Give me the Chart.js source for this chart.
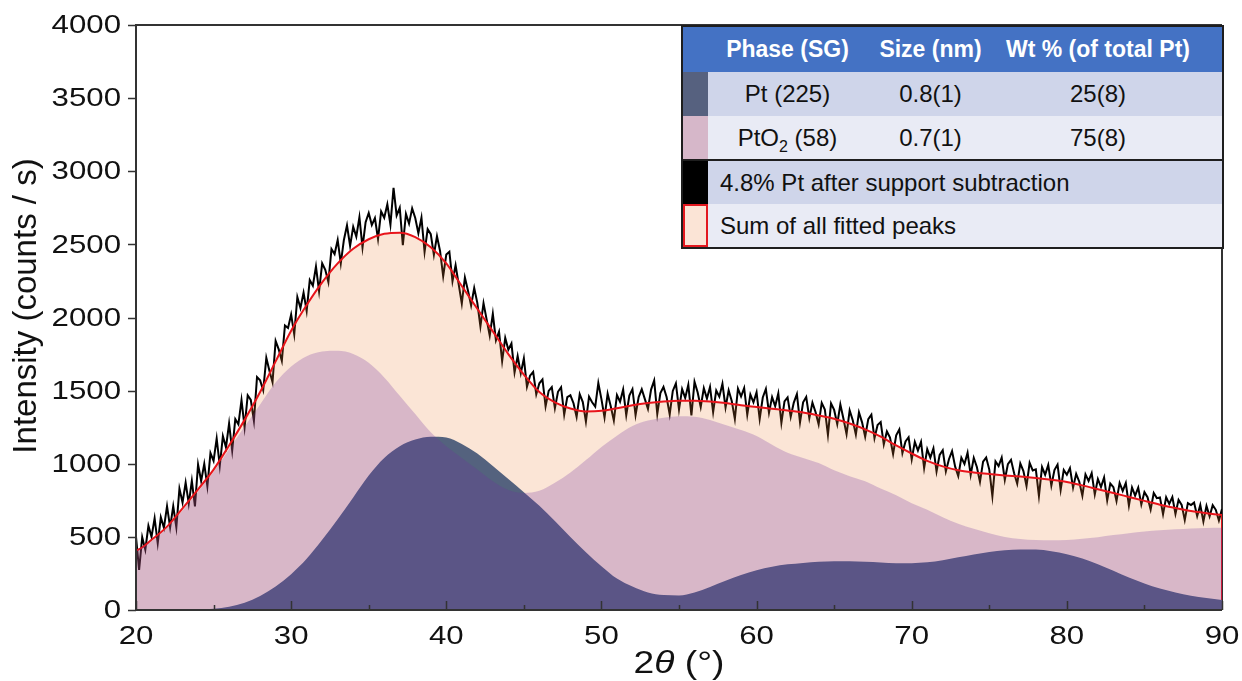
<!DOCTYPE html>
<html>
<head>
<meta charset="utf-8">
<script src="https://cdn.jsdelivr.net/npm/chart.js@4"></script>
<style>
  html, body { margin: 0; padding: 0; background: #fff; }
  #wrap { position: relative; width: 1242px; height: 681px; }
  #phases {
    position: absolute; left: 681px; top: 25px; width: 541px;
    border-collapse: collapse; table-layout: fixed;
    border: 2px solid #1e1e1e;
    font-family: "Liberation Sans", Arial, sans-serif; font-size: 24px; color: #111;
  }
  #phases td, #phases th { padding: 0; text-align: center; white-space: nowrap; }
  #phases tr { height: 44px; }
  #phases tr.head { height: 46px; background: #4472c4; color: #fff; }
  #phases tr.head th { font-weight: bold; font-size: 23px; }
  #phases tr.dark { background: #cfd5ea; }
  #phases tr.light { background: #e9ebf5; }
  #phases tr.sep td { border-top: 2px solid #1e1e1e; }
  #phases .wt { padding-right: 20px; }
  #phases .txt { text-align: left; padding-left: 12px; }
  #phases sub { font-size: 16px; line-height: 0; }
  .sw-pt { background: #56617f; }
  .sw-pto2 { background: #d6b7c9; }
  .sw-data { background: #000; }
  .sw-sum { background: #fbe4d6; box-shadow: inset 0 0 0 2px #e3181f; }
</style>
</head>
<body>
<div id="wrap">
  <canvas id="xrd" width="1242" height="681"></canvas>
  <table id="phases">
    <colgroup><col style="width:26px"><col style="width:159px"><col style="width:127px"><col style="width:229px"></colgroup>
    <tr class="head"><th></th><th>Phase (SG)</th><th>Size (nm)</th><th class="wt">Wt % (of total Pt)</th></tr>
    <tr class="dark"><td class="sw-pt"></td><td>Pt (225)</td><td>0.8(1)</td><td class="wt">25(8)</td></tr>
    <tr class="light"><td class="sw-pto2"></td><td>PtO<sub>2</sub> (58)</td><td>0.7(1)</td><td class="wt">75(8)</td></tr>
    <tr class="dark sep"><td class="sw-data"></td><td colspan="3" class="txt">4.8% Pt after support subtraction</td></tr>
    <tr class="light"><td class="sw-sum"></td><td colspan="3" class="txt">Sum of all fitted peaks</td></tr>
  </table>
</div>
<script>
// fitted curves, read every 1 degree from 20 to 90
const angles = [20,21,22,23,24,25,26,27,28,29,30,31,32,33,34,35,36,37,38,39,40,41,42,43,44,45,
  46,47,48,49,50,51,52,53,54,55,56,57,58,59,60,61,62,63,64,65,66,67,68,69,70,71,72,73,74,75,
  76,77,78,79,80,81,82,83,84,85,86,87,88,89,90];

const sumFit = [410,480,570,695,825,960,1125,1300,1490,1700,1910,2085,2240,2370,2470,2535,2572,2580,2550,2480,
  2370,2215,2060,1905,1750,1610,1490,1420,1378,1358,1362,1380,1400,1415,1425,1430,1430,1425,1415,1400,
  1388,1376,1364,1350,1330,1308,1275,1235,1185,1125,1070,1020,982,955,940,930,920,912,902,890,
  875,852,826,800,773,746,720,697,677,662,650];

const pto2Fit = [400,470,560,680,810,945,1100,1255,1405,1555,1665,1735,1768,1772,1750,1690,1590,1465,1340,1215,
  1120,1040,960,880,820,800,815,870,940,1025,1115,1192,1258,1295,1315,1325,1322,1300,1265,1230,
  1190,1130,1075,1040,1005,955,915,880,830,785,730,685,635,590,555,525,500,485,478,477,
  479,487,498,512,525,537,545,552,558,561,562];

const ptFit = [0,0,0,0,2,8,22,50,95,160,245,350,480,620,770,920,1040,1120,1165,1185,
  1180,1135,1070,985,895,805,712,608,500,395,300,215,160,120,102,100,120,158,200,240,
  272,296,312,322,330,334,334,330,325,320,320,326,340,360,380,397,408,414,413,402,
  382,352,312,268,222,182,147,120,98,82,68];

// measured pattern (4.8% Pt after support subtraction), every 0.2 degree
const scanStart = 20;
const scanStep = 0.2;
const scanCounts = [
  500,274,498,412,576, 500,628,456,634,562, 710,565,710,565,830, 735,871,727,883,709,
  995,882,999,846,1073, 1020,1173,986,1189,1112, 1275,1090,1305,1270,1435, 1250,1468,1436,1294,1592,
  1570,1502,1724,1636,1558, 1840,1782,1704,1946,1928, 2020,1885,2140,2065,2170, 2045,2256,2217,2348,2179,
  2370,2326,2242,2468,2434, 2530,2370,2530,2630,2490, 2620,2553,2686,2479,2652, 2715,2632,2680,2537,2725,
  2682,2774,2635,2887,2698, 2750,2494,2708,2642,2746, 2680,2576,2682,2448,2604, 2570,2428,2556,2454,2282,
  2430,2449,2248,2357,2226, 2095,2274,2183,2082,2201, 2100,1939,2098,1987,1876, 2025,1844,1903,1702,1861,
  1780,1822,1624,1736,1618, 1720,1526,1602,1628,1474, 1550,1576,1392,1498,1524, 1380,1492,1523,1335,1456,
  1468,1414,1320,1476,1422, 1288,1459,1420,1391,1552, 1442,1316,1479,1393,1296, 1470,1424,1508,1332,1466,
  1510,1333,1456,1509,1442, 1375,1507,1569,1341,1483, 1525,1456,1337,1498,1549, 1370,1510,1450,1540,1330,
  1560,1489,1388,1517,1446, 1525,1353,1501,1459,1547, 1385,1502,1429,1306,1513, 1460,1518,1335,1473,1420,
  1488,1306,1453,1511,1348, 1456,1394,1481,1279,1426, 1454,1321,1418,1476,1283, 1420,1456,1312,1418,1354,
  1270,1416,1371,1197,1412, 1368,1271,1405,1308,1202, 1365,1297,1199,1351,1283, 1185,1305,1335,1175,1265,
  1285,1133,1221,1179,1067, 1195,1234,1073,1152,1181, 1030,1150,1090,1150,970, 1100,1042,1105,947,1060,
  1092,947,1031,1086,980, 915,1042,999,1076,923, 1040,978,876,1014,1042, 960,778,1016,984,1042,
  890,998,1027,935,864, 1002,950,848,1006,954, 962,780,977,925,992, 850,957,994,821,958,
  925,970,836,931,877, 782,927,882,936,791, 896,841,906,750,865, 840,745,869,814,868,
  713,838,782,837,721, 806,771,686,800,765, 770,655,771,726,772, 657,753,719,615,731,
  717,734,641,718,605, 712,640,717,685,612, 690
];

const xTicks = [20,30,40,50,60,70,80,90];
const xMinorTicks = [25,35,45,55,65,75,85];
const yTicks = [0,500,1000,1500,2000,2500,3000,3500,4000];

// the axis lettering in the original is a little wider than plain Arial
const TEXT_STRETCH = 1.2;
const FRAME = '#333';

function points(xs, ys) {
  return xs.map((a, i) => ({x: a, y: ys[i]}));
}

const scanPoints = scanCounts.map((c, i) => ({x: +(scanStart + i * scanStep).toFixed(1), y: c}));
// closed outline like the filled area in the original (down to 0 at both ends)
const sumPoints = [{x: angles[0], y: 0}].concat(points(angles, sumFit), [{x: angles[angles.length - 1], y: 0}]);

const frameAndText = {
  id: 'frameAndText',
  beforeDatasetsDraw(chart) {
    const {ctx, chartArea: a} = chart;
    ctx.save();
    ctx.strokeStyle = FRAME;
    ctx.lineWidth = 2;
    ctx.beginPath();
    ctx.moveTo(a.right, a.top);
    ctx.lineTo(a.right, a.bottom);
    ctx.stroke();
    ctx.restore();
  },
  afterDatasetsDraw(chart) {
    const {ctx, chartArea: a, scales: {x, y}} = chart;
    ctx.save();
    ctx.strokeStyle = FRAME;
    ctx.lineWidth = 2;
    ctx.beginPath();
    ctx.moveTo(a.right, a.top);
    ctx.lineTo(a.left, a.top);
    ctx.lineTo(a.left, a.bottom);
    ctx.lineTo(a.right, a.bottom);
    ctx.stroke();

    // ticks: y outward, x inward
    ctx.lineWidth = 1.5;
    ctx.beginPath();
    yTicks.forEach(v => {
      const py = Math.round(y.getPixelForValue(v)) + 0.5;
      ctx.moveTo(a.left - 8, py);
      ctx.lineTo(a.left, py);
    });
    xTicks.forEach(v => {
      const px = Math.round(x.getPixelForValue(v)) + 0.5;
      ctx.moveTo(px, a.bottom);
      ctx.lineTo(px, a.bottom - 9);
    });
    xMinorTicks.forEach(v => {
      const px = Math.round(x.getPixelForValue(v)) + 0.5;
      ctx.moveTo(px, a.bottom);
      ctx.lineTo(px, a.bottom - 5);
    });
    ctx.stroke();

    // tick labels
    ctx.fillStyle = '#111';
    ctx.font = '26px "Liberation Sans", Arial, sans-serif';
    ctx.textBaseline = 'middle';
    ctx.textAlign = 'right';
    yTicks.forEach(v => {
      ctx.save();
      ctx.translate(a.left - 15, y.getPixelForValue(v) + 1);
      ctx.scale(TEXT_STRETCH, 1);
      ctx.fillText(String(v), 0, 0);
      ctx.restore();
    });
    ctx.textAlign = 'center';
    xTicks.forEach(v => {
      ctx.save();
      ctx.translate(x.getPixelForValue(v), a.bottom + 27);
      ctx.scale(TEXT_STRETCH, 1);
      ctx.fillText(String(v), 0, 0);
      ctx.restore();
    });

    // y title
    ctx.save();
    ctx.font = '33px "Liberation Sans", Arial, sans-serif';
    ctx.translate(27, 306);
    ctx.rotate(-Math.PI / 2);
    ctx.fillText('Intensity (counts / s)', 0, 0);
    ctx.restore();

    // x title: 2θ (°), theta in italics
    const reg = '31px "Liberation Sans", Arial, sans-serif';
    const ita = 'italic 31px "Liberation Sans", Arial, sans-serif';
    const parts = [['2', reg], ['\u03b8', ita], [' (\u00b0)', reg]];
    let total = 0;
    parts.forEach(p => { ctx.font = p[1]; total += ctx.measureText(p[0]).width; });
    ctx.save();
    ctx.translate((a.left + a.right) / 2, 664);
    ctx.scale(TEXT_STRETCH, 1);
    ctx.textAlign = 'left';
    let cx = -total / 2;
    parts.forEach(p => {
      ctx.font = p[1];
      ctx.fillText(p[0], cx, 0);
      cx += ctx.measureText(p[0]).width;
    });
    ctx.restore();
    ctx.restore();
  }
};

const chart = new Chart(document.getElementById('xrd').getContext('2d'), {
  type: 'line',
  data: {
    datasets: [
      {
        label: 'PtO2 (58)',
        data: points(angles, pto2Fit),
        backgroundColor: 'rgba(112,48,160,0.25)',
        borderColor: 'rgba(0,0,0,0)',
        borderWidth: 0,
        fill: 'origin',
        cubicInterpolationMode: 'monotone',
        order: 1
      },
      {
        label: 'Pt (225)',
        data: points(angles, ptFit),
        backgroundColor: '#54627e',
        borderColor: 'rgba(0,0,0,0)',
        borderWidth: 0,
        fill: 'origin',
        cubicInterpolationMode: 'monotone',
        order: 2
      },
      {
        label: 'Sum of all fitted peaks',
        data: sumPoints,
        backgroundColor: 'rgba(237,125,49,0.2)',
        borderColor: '#e8141b',
        borderWidth: 2,
        fill: 'origin',
        cubicInterpolationMode: 'monotone',
        order: 3
      },
      {
        label: '4.8% Pt after support subtraction',
        data: scanPoints,
        borderColor: '#000',
        borderWidth: 2,
        fill: false,
        tension: 0,
        order: 4
      }
    ]
  },
  options: {
    responsive: false,
    animation: false,
    devicePixelRatio: 1,
    layout: { padding: { top: 25, right: 20, left: 0, bottom: 0 } },
    elements: { point: { radius: 0 } },
    plugins: {
      legend: { display: false },
      tooltip: { enabled: false },
      filler: { propagate: false, drawTime: 'beforeDatasetDraw' }
    },
    scales: {
      x: {
        type: 'linear',
        min: 20,
        max: 90,
        grid: { display: false },
        border: { display: false },
        ticks: { display: false },
        afterFit(scale) { scale.height = 71; }
      },
      y: {
        min: 0,
        max: 4000,
        grid: { display: false },
        border: { display: false },
        ticks: { display: false },
        afterFit(scale) { scale.width = 136; }
      }
    }
  },
  plugins: [frameAndText]
});
</script>
</body>
</html>
